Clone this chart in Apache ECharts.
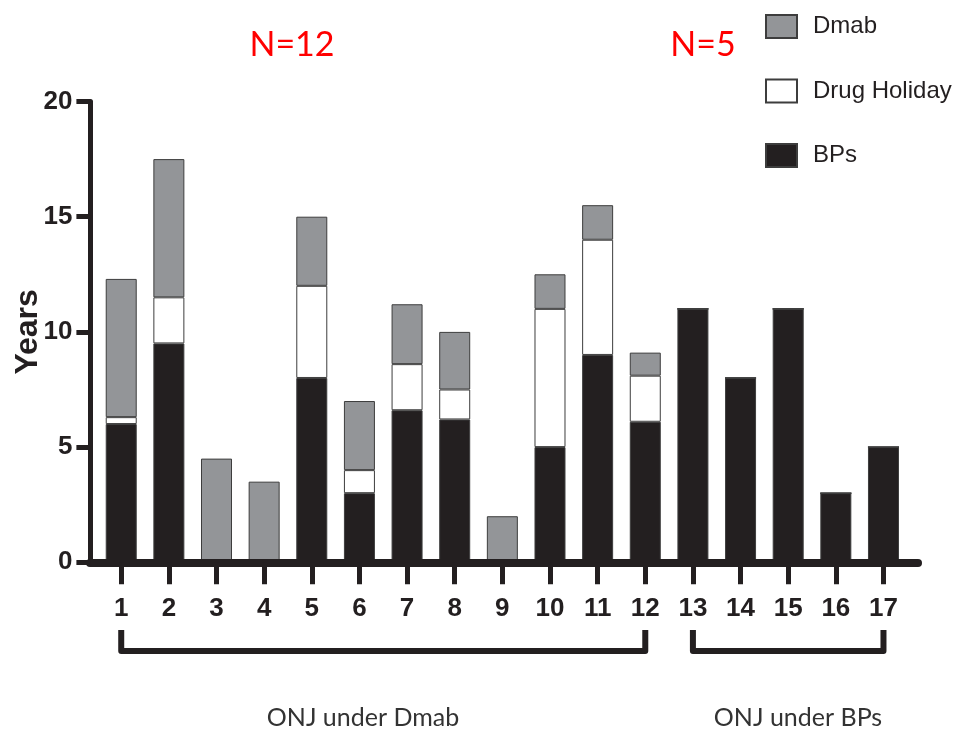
<!DOCTYPE html>
<html>
<head>
<meta charset="utf-8">
<script src="https://cdn.jsdelivr.net/npm/echarts@6/dist/echarts.min.js"></script>
<style>
  html, body { margin: 0; padding: 0; background: #fff; }
  #main { width: 968px; height: 734px; }
</style>
</head>
<body>
<div id="main"></div>
<script>
var cases = ['1', '2', '3', '4', '5', '6', '7', '8', '9', '10', '11', '12', '13', '14', '15', '16', '17'];
var bps = [6.0, 9.5, 0, 0, 8.0, 3.0, 6.6, 6.2, 0, 5.0, 9.0, 6.1, 11, 8, 11, 3, 5];
var holiday = [0.3, 2.0, 0, 0, 4.0, 1.0, 2.0, 1.3, 0, 6.0, 5.0, 2.0, 0, 0, 0, 0, 0];
var dmab = [6.0, 6.0, 4.5, 3.5, 3.0, 3.0, 2.6, 2.5, 2.0, 1.5, 1.5, 1.0, 0, 0, 0, 0, 0];
var groups = [
    { label: 'ONJ under Dmab', n: 'N=12', from: '1', to: '12' },
    { label: 'ONJ under BPs', n: 'N=5', from: '13', to: '17' }
];

var ink = '#231f20';
var sans = '"Liberation Sans", Arial, sans-serif';

var myChart = echarts.init(document.getElementById('main'));

function makeSeries(name, arr, color) {
    return {
        name: name,
        type: 'bar',
        stack: 'years',
        barWidth: 31,
        data: arr,
        itemStyle: { color: color, borderColor: '#3d3d3d', borderWidth: 1 },
        emphasis: { disabled: true },
        animation: false
    };
}

var option = {
    backgroundColor: '#fff',
    grid: [
        { left: 97.4, right: 60.7, top: 101.5, bottom: 171.7, containLabel: false, outerBoundsMode: 'none' },
        // second grid only carries the longer baseline of the original figure
        { left: 90, right: 50, top: 101.5, bottom: 171.7, containLabel: false, outerBoundsMode: 'none' }
    ],
    legend: {
        orient: 'vertical',
        left: 760,
        top: 9,
        itemWidth: 31,
        itemHeight: 23,
        itemGap: 39.5,
        icon: 'rect',
        data: ['Dmab', 'Drug Holiday', 'BPs'],
        selectedMode: false,
        textStyle: {
            fontFamily: sans,
            fontSize: 24,
            lineHeight: 23,
            color: ink,
            padding: [0, 0, 0, 11]
        }
    },
    xAxis: [{
        type: 'category',
        data: cases,
        gridIndex: 0,
        boundaryGap: true,
        z: 5,
        axisLine: { show: false },
        axisTick: {
            show: true,
            alignWithLabel: true,
            length: 22,
            lineStyle: { color: ink, width: 5 }
        },
        axisLabel: {
            margin: 34,
            fontFamily: sans,
            fontWeight: 'bold',
            fontSize: 26,
            color: ink
        }
    }, {
        type: 'value',
        gridIndex: 1,
        min: 0,
        max: 1,
        z: 5,
        splitLine: { show: false },
        axisLine: { show: true, lineStyle: { color: ink, width: 8 } },
        axisTick: { show: false },
        axisLabel: { show: false }
    }],
    yAxis: [{
        type: 'value',
        gridIndex: 0,
        min: 0,
        max: 20,
        interval: 5,
        offset: 7,
        z: 5,
        name: 'Years',
        nameLocation: 'middle',
        nameRotate: 90,
        nameGap: 46,
        nameMoveOverlap: false,
        nameTextStyle: {
            fontFamily: sans,
            fontWeight: 'bold',
            fontSize: 32,
            color: ink
        },
        splitLine: { show: false },
        axisLine: { show: true, lineStyle: { color: ink, width: 5 } },
        axisTick: { show: true, length: 14, lineStyle: { color: ink, width: 5 } },
        axisLabel: {
            margin: 18,
            fontFamily: sans,
            fontWeight: 'bold',
            fontSize: 26,
            color: ink
        }
    }, {
        type: 'value',
        gridIndex: 1,
        show: false
    }],
    series: [
        makeSeries('BPs', bps, ink),
        makeSeries('Drug Holiday', holiday, '#ffffff'),
        makeSeries('Dmab', dmab, '#939598')
    ]
};

myChart.setOption(option);

// brackets under the case numbers, group labels and N counts
var graphics = [];
var nCenters = [292, 703];
var labelCenters = [363, 798];
groups.forEach(function (g, i) {
    var x1 = myChart.convertToPixel({ xAxisIndex: 0 }, g.from);
    var x2 = myChart.convertToPixel({ xAxisIndex: 0 }, g.to);
    graphics.push({
        type: 'polyline',
        shape: { points: [[x1, 630], [x1, 651], [x2, 651], [x2, 630]] },
        style: { stroke: ink, lineWidth: 6, fill: null, lineJoin: 'round' },
        silent: true
    });
    graphics.push({
        type: 'text',
        x: labelCenters[i],
        y: 718,
        style: {
            text: g.label,
            fill: '#333',
            font: '25px Lato, "Open Sans", sans-serif',
            align: 'center',
            verticalAlign: 'middle'
        },
        silent: true
    });
    graphics.push({
        type: 'text',
        x: nCenters[i],
        y: 45,
        style: {
            text: g.n,
            fill: '#ff0000',
            font: '34px Lato, "Open Sans", sans-serif',
            align: 'center',
            verticalAlign: 'middle'
        },
        silent: true
    });
});

myChart.setOption({ graphic: graphics });
</script>
</body>
</html>
